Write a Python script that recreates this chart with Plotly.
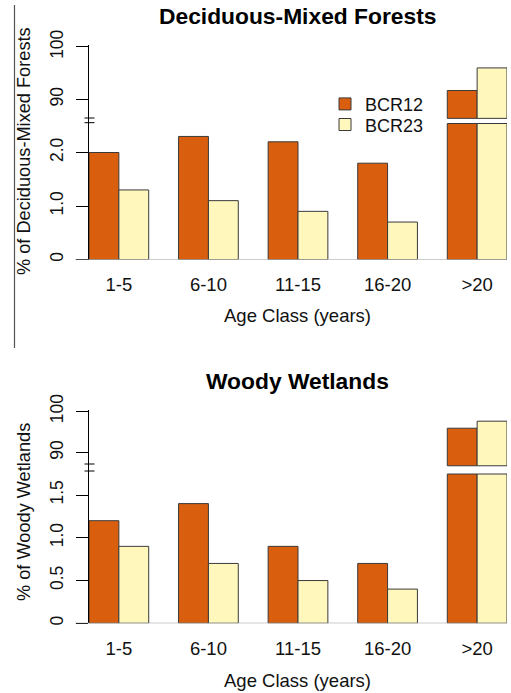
import plotly.graph_objects as go

# ---------------- data ----------------
categories = ["1-5", "6-10", "11-15", "16-20", ">20"]
dmf_bcr12 = [2.0, 2.3, 2.2, 1.8, 91.7]
dmf_bcr23 = [1.3, 1.1, 0.9, 0.7, 96.0]
ww_bcr12 = [1.2, 1.4, 0.9, 0.7, 95.9]
ww_bcr23 = [0.9, 0.7, 0.5, 0.4, 97.6]
series_names = ["BCR12", "BCR23"]

# ---------------- geometry (pixels) ----------------
W, H = 511, 693
L, R = 89, 4
FONT = "Liberation Sans, Arial, sans-serif"
C12, C23 = "#D95F0E", "#FFF7BC"
EDGE = "#3a3a3a"


def yp(px):
    return 1 - px / H


def xp(px):
    return (px - L) / (W - L - R)


# panel definitions: upper (broken) segment and lower segment
panels = [
    dict(vals=(dmf_bcr12, dmf_bcr23), x="x", xa="xaxis",
         up="y", upa="yaxis", lo="y2", loa="yaxis2",
         up_dom=(45.3, 121.0), up_range=(100 - (121.0 - 45.3) / 5.37, 100.3),
         up_base=100 - (118.3 - 45.3) / 5.37,
         lo_dom=(121.0, 259.5), lo_range=(0, (259.5 - 121.0) / 53.5),
         lo_cap=(259.5 - 123.5) / 53.5,
         lo_ticks=([0, 1, 2], ["0", "1.0", "2.0"]),
         breaks=(118.0, 122.7)),
    dict(vals=(ww_bcr12, ww_bcr23), x="x2", xa="xaxis2",
         up="y3", upa="yaxis3", lo="y4", loa="yaxis4",
         up_dom=(410.0, 469.5), up_range=(100 - (469.5 - 410.0) / 4.23, 100.3),
         up_base=100 - (465.7 - 410.0) / 4.23,
         lo_dom=(469.5, 623.3), lo_range=(0, (623.3 - 469.5) / 85.5),
         lo_cap=(623.3 - 474.0) / 85.5,
         lo_ticks=([0, 0.5, 1.0, 1.5], ["0", "0.5", "1.0", "1.5"]),
         breaks=(464.0, 471.0)),
]

legend_ids = ["legend", "legend2"]

fig = go.Figure()
layout = {}
shapes = []
annotations = []

for pi, p in enumerate(panels):
    for si, (vals, col) in enumerate(zip(p["vals"], (C12, C23))):
        offset = -1 / 3 if si == 0 else 0
        # lower segment (clipped at break)
        fig.add_trace(go.Bar(
            x=categories, y=[min(v, p["lo_cap"]) for v in vals],
            xaxis=p["x"], yaxis=p["lo"], name=series_names[si],
            marker=dict(color=col, line=dict(color=EDGE, width=1)),
            width=1 / 3, offset=offset, showlegend=(pi == 0),
            legend=legend_ids[si]))
        # upper segment (only values beyond the break)
        fig.add_trace(go.Bar(
            x=categories,
            y=[(v - p["up_base"]) if v > p["up_base"] else None for v in vals],
            base=p["up_base"],
            xaxis=p["x"], yaxis=p["up"], name=series_names[si],
            marker=dict(color=col, line=dict(color=EDGE, width=1)),
            width=1 / 3, offset=offset, showlegend=False))

    ycommon = dict(showline=True, linecolor="black", linewidth=1,
                   ticks="outside", ticklen=12, tickcolor="black",
                   tickangle=-90, tickfont=dict(size=17.5, family=FONT, color="#111"),
                   showgrid=False, zeroline=False, anchor=p["x"],
                   ticklabelstandoff=6, fixedrange=True, automargin=False)
    layout[p["upa"]] = dict(ycommon, domain=[yp(p["up_dom"][1]), yp(p["up_dom"][0])],
                            range=list(p["up_range"]), tickvals=[90, 100],
                            ticktext=["90", "100"])
    layout[p["loa"]] = dict(ycommon, domain=[yp(p["lo_dom"][1]), yp(p["lo_dom"][0])],
                            range=list(p["lo_range"]), tickvals=p["lo_ticks"][0],
                            ticktext=p["lo_ticks"][1])
    layout[p["xa"]] = dict(domain=[0, 1], anchor=p["lo"], type="category",
                           range=[-1 / 3, 4 + 1 / 3], showline=False, ticks="",
                           showgrid=False, zeroline=False, automargin=False,
                           tickfont=dict(size=18.5, family=FONT, color="#111"),
                           ticklabelstandoff=12, fixedrange=True)

    # gray baseline at 0
    shapes.append(dict(type="line", xref="paper", yref=p["lo"],
                       x0=xp(75), x1=1, y0=0, y1=0,
                       line=dict(color="#9a9a9a", width=1.2)))
    # axis break marks
    for by in p["breaks"]:
        shapes.append(dict(type="line", xref="paper", yref="paper",
                           x0=xp(84.5), x1=xp(94.5), y0=yp(by), y1=yp(by),
                           line=dict(color="black", width=1)))

# stray vertical rule at far left of the top panel
shapes.append(dict(type="line", xref="paper", yref="paper",
                   x0=xp(14.5), x1=xp(14.5), y0=yp(5), y1=yp(348),
                   line=dict(color="#555555", width=1.2)))

# titles
for text, cy in (("Deciduous-Mixed Forests", 16), ("Woody Wetlands", 381)):
    annotations.append(dict(text="<b>%s</b>" % text, xref="paper", yref="paper",
                            x=xp(297), y=yp(cy), showarrow=False,
                            xanchor="center", yanchor="middle",
                            font=dict(size=22.8, family=FONT, color="black")))
# x axis titles
for cy in (316, 680):
    annotations.append(dict(text="Age Class (years)", xref="paper", yref="paper",
                            x=xp(297), y=yp(cy), showarrow=False,
                            xanchor="center", yanchor="middle",
                            font=dict(size=18.5, family=FONT, color="#111")))
# y axis titles
for text, cy in (("% of Deciduous-Mixed Forests", 151), ("% of Woody Wetlands", 512)):
    annotations.append(dict(text=text, xref="paper", yref="paper",
                            x=xp(24), y=yp(cy), showarrow=False, textangle=-90,
                            xanchor="center", yanchor="middle",
                            font=dict(size=18.2, family=FONT, color="#111")))

legend_style = dict(xanchor="left", yanchor="top", bgcolor="rgba(0,0,0,0)",
                    font=dict(size=18, family=FONT, color="#111"), itemwidth=30)

fig.update_layout(
    **layout,
    template="none",
    width=W, height=H,
    margin=dict(l=L, r=R, t=0, b=0, pad=0, autoexpand=False),
    paper_bgcolor="white", plot_bgcolor="white",
    barmode="overlay",
    shapes=shapes, annotations=annotations,
    legend=dict(legend_style, x=xp(325), y=yp(85.7)),
    legend2=dict(legend_style, x=xp(325), y=yp(106.3)),
    font=dict(family=FONT),
)

fig.write_html("out.html", config={"displayModeBar": False},
               post_script="document.body.style.margin='0';document.body.style.padding='0';")
